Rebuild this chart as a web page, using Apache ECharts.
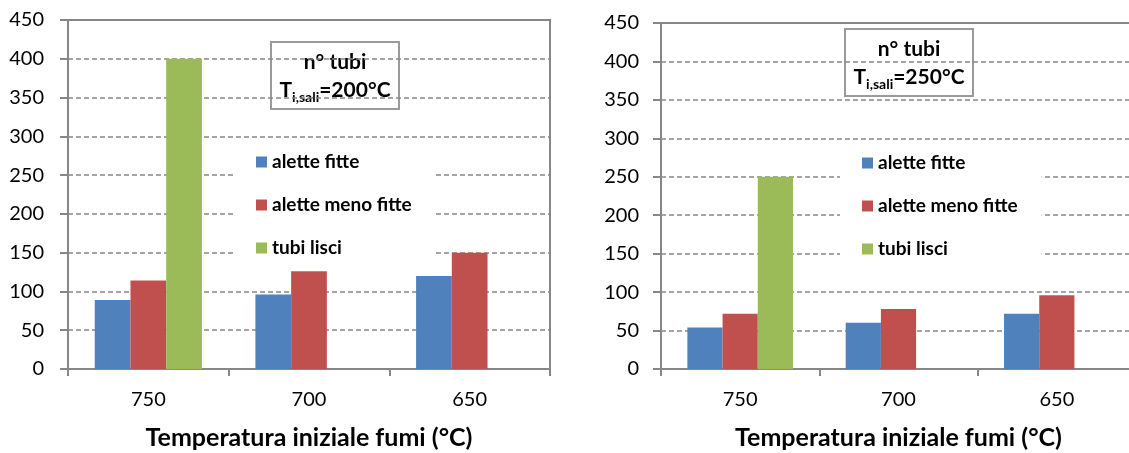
<!DOCTYPE html>
<html>
<head>
<meta charset="utf-8">
<script src="https://cdn.jsdelivr.net/npm/echarts@6/dist/echarts.min.js"></script>
<style>
  html, body { margin: 0; padding: 0; background: #ffffff; }
  #chart { width: 1129px; height: 453px; }
</style>
</head>
<body>
<div id="chart"></div>
<script>
// Categories: initial flue-gas temperature (°C)
const categories = ['750', '700', '650'];
const seriesNames = ['alette fitte', 'alette meno fitte', 'tubi lisci'];

// Number of tubes, molten-salt inlet temperature 200 °C
const fitte200 = [89, 96, 120];
const menoFitte200 = [114, 126, 150];
const lisci200 = [400, null, null];

// Number of tubes, molten-salt inlet temperature 250 °C
const fitte250 = [54, 60, 72];
const menoFitte250 = [72, 78, 96];
const lisci250 = [250, null, null];

// Value axis range
const yMin = 0;
const yMax = 450;
const yStep = 50;

const axisTitle = 'Temperatura iniziale fumi (°C)';
const boxTitle = 'n° tubi';
const boxTemps = ['200°C', '250°C'];

const colors = ['#4F81BD', '#C0504D', '#9BBB59'];
const FONT = 'Lato, "Open Sans", sans-serif';
const GRAY = '#878787';

function xAxisFor(gridIndex) {
  return {
    type: 'category',
    gridIndex: gridIndex,
    data: categories,
    boundaryGap: true,
    axisLine: { show: true, lineStyle: { color: GRAY, width: 2 } },
    axisTick: { show: true, interval: 0, length: 7, lineStyle: { color: GRAY, width: 2 } },
    axisLabel: { margin: 21, color: '#000', fontSize: 20, fontFamily: FONT },
    name: axisTitle,
    nameLocation: 'middle',
    nameGap: 56,
    nameTextStyle: { color: '#000', fontSize: 25, fontWeight: 'bold', fontFamily: FONT }
  };
}

function yAxisFor(gridIndex, labelMargin) {
  return {
    type: 'value',
    gridIndex: gridIndex,
    min: yMin,
    max: yMax,
    interval: yStep,
    axisLine: { show: true, lineStyle: { color: GRAY, width: 2 } },
    axisTick: { show: true, length: 8, lineStyle: { color: GRAY, width: 2 } },
    axisLabel: { margin: labelMargin, color: '#000', fontSize: 20, fontFamily: FONT },
    splitLine: { show: true, lineStyle: { color: '#868686', width: 1.7, type: [5, 3] } }
  };
}

function barSeries(name, data, idx, axisIndex) {
  return {
    type: 'bar',
    name: name,
    data: data,
    xAxisIndex: axisIndex,
    yAxisIndex: axisIndex,
    barGap: '0%',
    barCategoryGap: '33.3%',
    itemStyle: { color: colors[idx] },
    emphasis: { disabled: true }
  };
}

function legendFor(left, top) {
  return {
    orient: 'vertical',
    left: left,
    top: top,
    icon: 'rect',
    itemWidth: 11,
    itemHeight: 11,
    itemGap: 23,
    padding: [10, 24, 5, 22],
    backgroundColor: '#ffffff',
    selectedMode: false,
    textStyle: { color: '#000', fontSize: 19, fontWeight: 'bold', fontFamily: FONT, lineHeight: 20 },
    data: seriesNames
  };
}

function infoBox(cx, top, temp) {
  const w = 128, h = 67;
  return {
    type: 'group',
    left: cx - w / 2,
    top: top,
    z: 100,
    children: [
      {
        type: 'rect',
        shape: { x: 0, y: 0, width: w, height: h },
        style: { fill: '#ffffff', stroke: '#9a9a9a', lineWidth: 2 }
      },
      {
        type: 'text',
        x: w / 2,
        y: 20,
        style: {
          text: boxTitle,
          align: 'center',
          verticalAlign: 'middle',
          fill: '#000',
          font: 'bold 21px ' + FONT
        }
      },
      {
        type: 'text',
        x: w / 2,
        y: 48,
        style: {
          text: '{b|T}{s|i,sali}{b|=' + temp + '}',
          align: 'center',
          verticalAlign: 'middle',
          rich: {
            b: { fill: '#000', fontSize: 21, fontWeight: 'bold', fontFamily: FONT, lineHeight: 28, verticalAlign: 'bottom', height: 28 },
            s: { fill: '#000', fontSize: 14, fontWeight: 'bold', fontFamily: FONT, lineHeight: 14, verticalAlign: 'bottom', height: 14 }
          }
        }
      }
    ]
  };
}

const chart = echarts.init(document.getElementById('chart'), null, { renderer: 'canvas' });

chart.setOption({
  animation: false,
  backgroundColor: '#ffffff',
  grid: [
    { left: 68, top: 20, width: 482, height: 349, show: true, borderColor: GRAY, borderWidth: 2, containLabel: false, outerBoundsMode: 'none' },
    { left: 661, top: 23, width: 475, height: 346, show: true, borderColor: GRAY, borderWidth: 2, containLabel: false, outerBoundsMode: 'none' }
  ],
  xAxis: [xAxisFor(0), xAxisFor(1)],
  yAxis: [yAxisFor(0, 24), yAxisFor(1, 22)],
  legend: [legendFor(234, 142), legendFor(840, 143)],
  series: [
    barSeries(seriesNames[0], fitte200, 0, 0),
    barSeries(seriesNames[1], menoFitte200, 1, 0),
    barSeries(seriesNames[2], lisci200, 2, 0),
    barSeries(seriesNames[0], fitte250, 0, 1),
    barSeries(seriesNames[1], menoFitte250, 1, 1),
    barSeries(seriesNames[2], lisci250, 2, 1)
  ],
  graphic: [
    infoBox(334, 41, boxTemps[0]),
    infoBox(908, 28, boxTemps[1])
  ]
});
</script>
</body>
</html>
